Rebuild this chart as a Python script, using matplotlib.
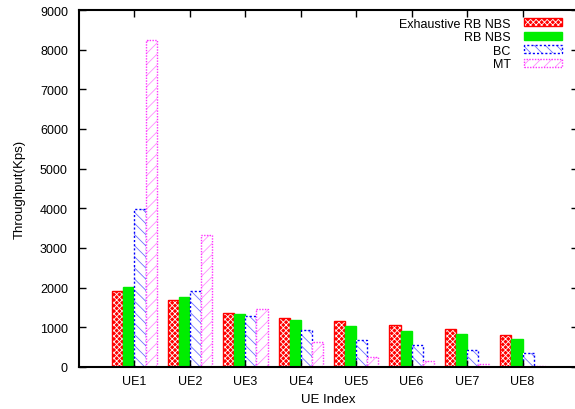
import matplotlib
matplotlib.use("Agg")
import matplotlib.pyplot as plt
from matplotlib.patches import Patch
import numpy as np

plt.rcParams['font.family'] = ['Liberation Sans', 'DejaVu Sans']
plt.rcParams['font.size'] = 9
plt.rcParams['hatch.linewidth'] = 0.6

# data
ues = ['UE1', 'UE2', 'UE3', 'UE4', 'UE5', 'UE6', 'UE7', 'UE8']
exhaustive = [1915, 1695, 1350, 1240, 1150, 1050, 950, 800]
rb_nbs = [2015, 1770, 1325, 1185, 1030, 915, 830, 705]
bc = [3980, 1905, 1290, 930, 680, 555, 430, 345]
mt = [8250, 3340, 1450, 640, 250, 150, 70, 15]

fig = plt.figure(figsize=(5.75, 4.1), dpi=100)
ax = fig.add_axes([79 / 575, 42 / 410, 499 / 575, 357 / 410])

x = np.arange(1, len(ues) + 1)
w = 0.2

# red checkered bars: red fill, white cross hatch, red outline
ax.bar(x - 1.5 * w, exhaustive, w, facecolor='#ff0000', edgecolor='white',
       hatch='xxxxxx', linewidth=0)
ax.bar(x - 1.5 * w, exhaustive, w, fill=False, edgecolor='#ff0000', linewidth=1)
ax.bar(x - 0.5 * w, rb_nbs, w, facecolor='#00ee00', edgecolor='#00ee00', linewidth=1)
# hatched bars: lighter hatch first, then a dotted outline on top
ax.bar(x + 0.5 * w, bc, w, facecolor='white', edgecolor='#6f6fff',
       hatch='\\\\\\', linewidth=0)
ax.bar(x + 0.5 * w, bc, w, fill=False, edgecolor='#0000ff',
       linestyle=(0, (1.5, 1.5)), linewidth=1)
ax.bar(x + 1.5 * w, mt, w, facecolor='white', edgecolor='#ff8cff',
       hatch='///', linewidth=0)
ax.bar(x + 1.5 * w, mt, w, fill=False, edgecolor='#ff33ff',
       linestyle=(0, (1, 1)), linewidth=1)

ax.set_xlim(0, 9)
ax.set_ylim(0, 9000)
ax.set_xticks(x)
ax.set_xticklabels(ues)
ax.set_yticks(np.arange(0, 9001, 1000))
ax.tick_params(direction='in', length=5, width=1, top=True, right=True,
               labelsize=9, pad=8, colors='black')
ax.tick_params(axis='x', pad=6)
for s in ['left', 'bottom', 'top']:
    ax.spines[s].set_linewidth(1.5)
ax.spines['right'].set_visible(False)

ax.set_xlabel('UE Index', fontsize=9.5, labelpad=4)
ax.set_ylabel('Throughput(Kps)', fontsize=9.5, labelpad=10)

h_exh = (Patch(facecolor='#ff0000', edgecolor='white', hatch='xxxxxx', linewidth=0),
         Patch(fill=False, edgecolor='#ff0000', linewidth=1))
h_rb = Patch(facecolor='#00ee00', edgecolor='#00ee00')
h_bc = (Patch(facecolor='white', edgecolor='#6f6fff', hatch='\\\\\\', linewidth=0),
        Patch(fill=False, edgecolor='#0000ff', linestyle=(0, (1.5, 1.5))))
h_mt = (Patch(facecolor='white', edgecolor='#ff8cff', hatch='///', linewidth=0),
        Patch(fill=False, edgecolor='#ff33ff', linestyle=(0, (1, 1))))
ax.legend([h_exh, h_rb, h_bc, h_mt], ['Exhaustive RB NBS', 'RB NBS', 'BC', 'MT'],
          loc='upper right', bbox_to_anchor=(0.99, 1.01), frameon=False,
          markerfirst=False, handlelength=3.0, handleheight=0.55,
          labelspacing=0.12, handletextpad=1.1, fontsize=9)

fig.savefig('out.png', dpi=100)
